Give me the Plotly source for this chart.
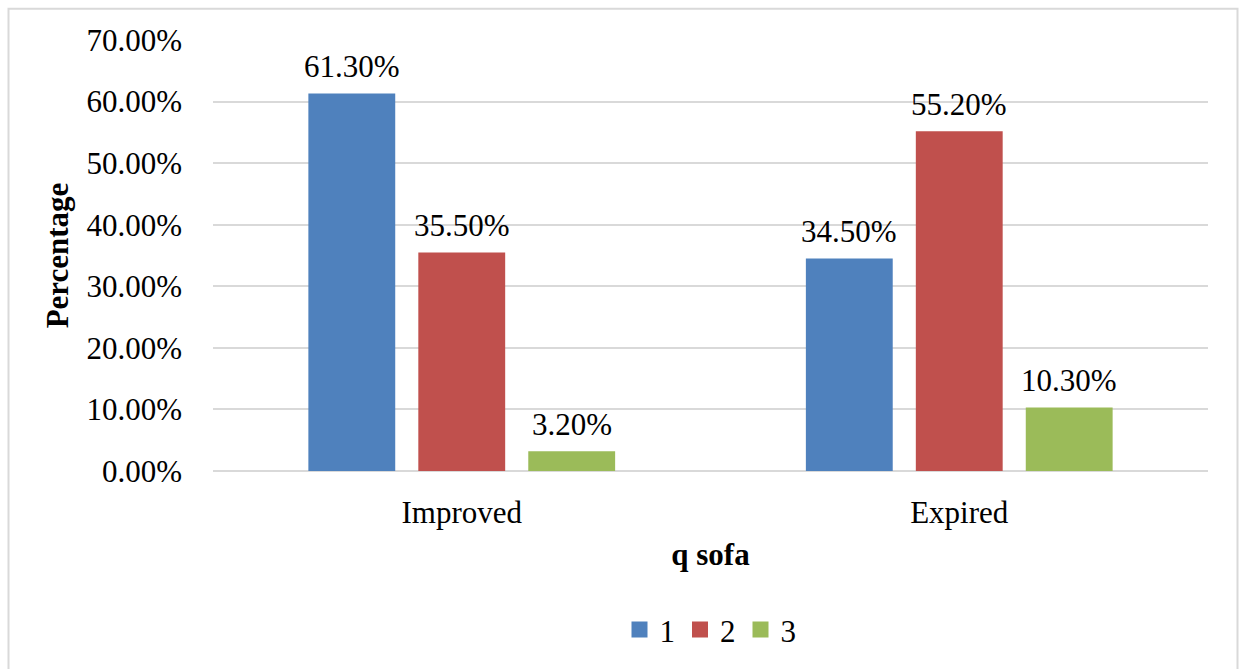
import plotly.graph_objects as go

# Outcome categories and qSOFA score series (percent of patients)
outcomes = ["Improved", "Expired"]
series_names = ["1", "2", "3"]
score_1 = [61.30, 34.50]
score_2 = [35.50, 55.20]
score_3 = [3.20, 10.30]
y_ticks = [0, 10, 20, 30, 40, 50, 60, 70]

colors = ["#4F81BD", "#C0504D", "#9BBB59"]
font_family = "Liberation Serif, Times New Roman, serif"
text_color = "#000000"
fs = 31

fig = go.Figure()
all_series = [score_1, score_2, score_3]
for name, values, color in zip(series_names, all_series, colors):
    fig.add_trace(go.Bar(
        x=outcomes,
        y=[v / 100 for v in values],
        name=name,
        marker=dict(color=color, line=dict(width=0)),
        offsetgroup=name,
        showlegend=False,
    ))

# legend entries with larger square swatches
for name, color in zip(series_names, colors):
    fig.add_trace(go.Scatter(
        x=[None], y=[None], mode="markers", name=name,
        marker=dict(symbol="square", size=16, color=color),
        showlegend=True,
    ))

W, H = 1242, 669
ml, mr, mt, mb = 213, 34, 40, 195
pw, ph = W - ml - mr, H - mt - mb

def px_to_paper_x(px):
    return (px - ml) / pw

def px_to_paper_y(py):
    return (H - mb - py) / ph

bargap = 0.337
bargroupgap = 0.21

# value labels placed above each bar, positioned on the category axis
annotations = []
n = len(all_series)
slot = (1 - bargap) / n
for si, values in enumerate(all_series):
    offset = -(1 - bargap) / 2 + slot * (si + 0.5)
    for ci, v in enumerate(values):
        annotations.append(dict(
            x=ci + offset, y=v / 100, xref="x", yref="y",
            text=f"{v:.2f}%", showarrow=False,
            yanchor="middle", yshift=27,
            font=dict(family=font_family, size=fs, color=text_color),
        ))

fig.update_layout(
    width=W, height=H,
    margin=dict(l=ml, r=mr, t=mt, b=mb, pad=0),
    paper_bgcolor="white",
    plot_bgcolor="white",
    barmode="group",
    bargap=bargap,
    bargroupgap=bargroupgap,
    font=dict(family=font_family, size=fs, color=text_color),
    showlegend=True,
    legend=dict(
        orientation="h",
        x=0.5, xanchor="center",
        y=px_to_paper_y(634), yanchor="middle",
        font=dict(family=font_family, size=fs, color=text_color),
        itemwidth=30,
        traceorder="normal",
    ),
    xaxis=dict(
        type="category",
        range=[-0.5, 1.5],
        showgrid=False,
        showline=False,
        ticks="",
        tickfont=dict(family=font_family, size=fs, color=text_color),
        ticklabelstandoff=20,
        title=dict(text="<b>q sofa</b>", standoff=14,
                   font=dict(family=font_family, size=fs, color=text_color)),
    ),
    yaxis=dict(
        range=[0, 0.7],
        tickvals=[t / 100 for t in y_ticks],
        tickformat=".2%",
        showgrid=True,
        gridcolor="#D9D9D9",
        gridwidth=1.5,
        zeroline=True,
        zerolinecolor="#D9D9D9",
        zerolinewidth=1.5,
        showline=False,
        ticks="",
        ticklabelstandoff=30,
        tickfont=dict(family=font_family, size=fs, color=text_color),
        title=dict(text="<b>Percentage</b>", standoff=8,
                   font=dict(family=font_family, size=fs, color=text_color)),
    ),
    annotations=annotations,
    shapes=[dict(
        type="rect", xref="paper", yref="paper",
        x0=px_to_paper_x(8.5), x1=px_to_paper_x(1237.5),
        y0=px_to_paper_y(676), y1=px_to_paper_y(8.5),
        line=dict(color="#D9D9D9", width=2),
        fillcolor="rgba(0,0,0,0)",
        layer="below",
    )],
)

fig.write_html("out.html")
